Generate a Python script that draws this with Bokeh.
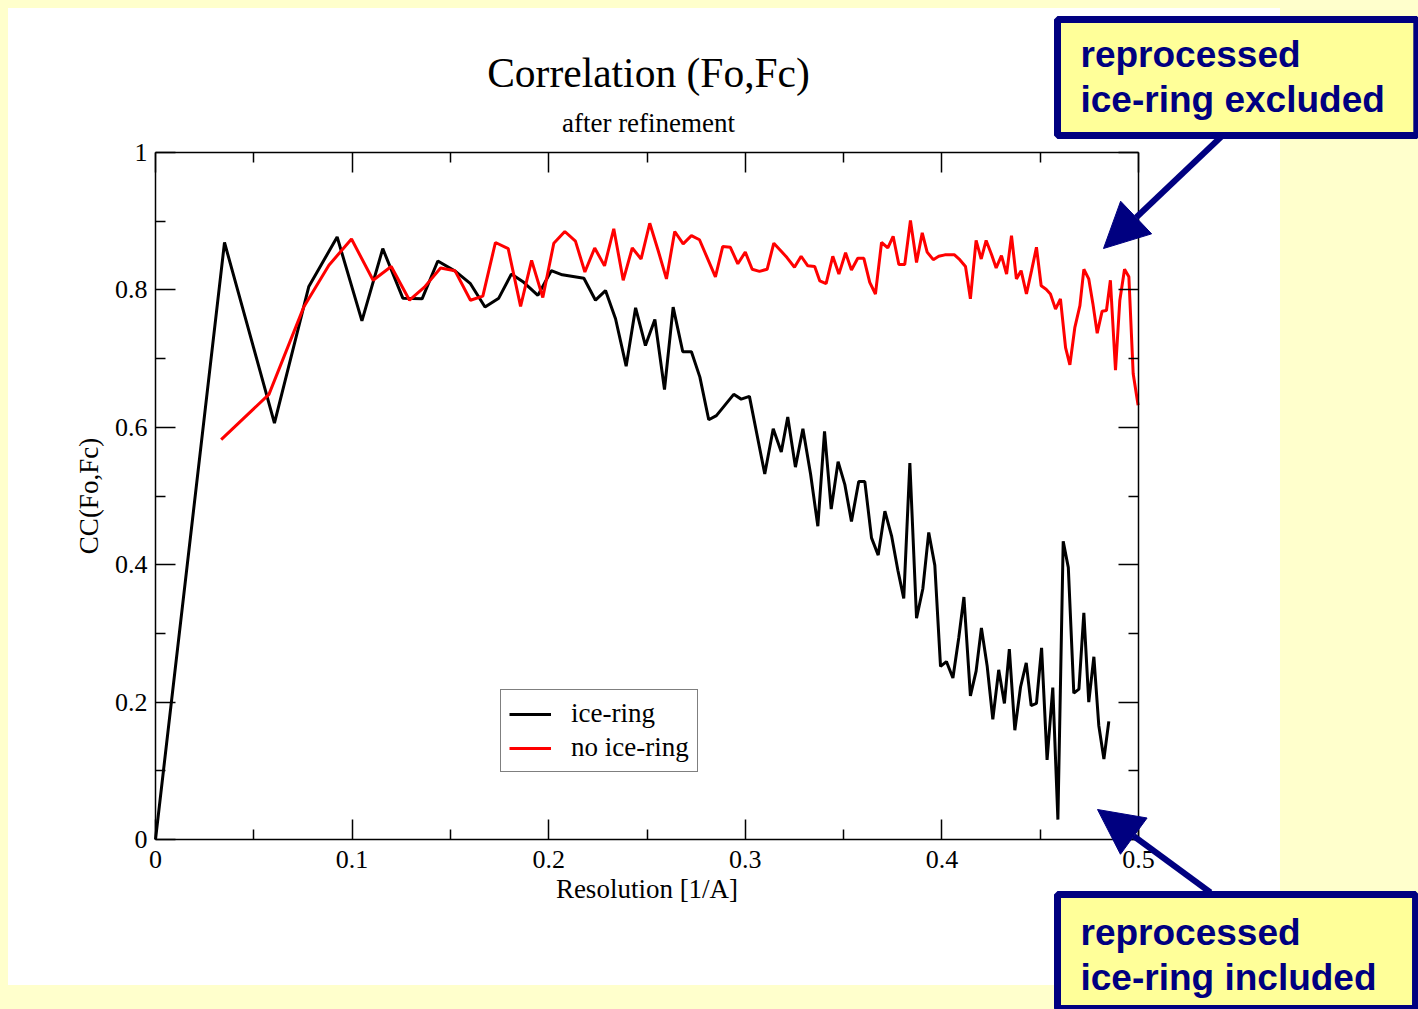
from bokeh.plotting import figure
from bokeh.models import (Range1d, LinearAxis, FixedTicker, CustomJSTickFormatter, Legend,
                          LegendItem, Label, Arrow, NormalHead)
from bokeh.embed import file_html
from bokeh.resources import INLINE

# ---------------- data ----------------
ice_x = [0, 0.0351, 0.0605, 0.078, 0.0924, 0.105, 0.1156, 0.1258, 0.1356, 0.1436, 0.1526, 0.1602,
         0.1676, 0.1746, 0.181, 0.1873, 0.1945, 0.2013, 0.2069, 0.2179, 0.2238, 0.2289, 0.234, 0.2394,
         0.2442, 0.2492, 0.254, 0.2589, 0.2633, 0.2682, 0.2726, 0.2769, 0.2814, 0.2853, 0.2941, 0.2979,
         0.3021, 0.3099, 0.3142, 0.3183, 0.3216, 0.3255, 0.3293, 0.3332, 0.3369, 0.3403, 0.3437, 0.3472,
         0.3506, 0.354, 0.3577, 0.3608, 0.3642, 0.3676, 0.371, 0.3744, 0.3776, 0.3806, 0.3837, 0.3871,
         0.3903, 0.3933, 0.3964, 0.3993, 0.4023, 0.4056, 0.4086, 0.4112, 0.4145, 0.4174, 0.4201, 0.423,
         0.4259, 0.4289, 0.4318, 0.4343, 0.4371, 0.44, 0.4429, 0.4454, 0.4481, 0.4507, 0.4535, 0.4564,
         0.459, 0.4617, 0.4643, 0.4671, 0.4697, 0.4722, 0.4747, 0.4773, 0.4798, 0.4824, 0.4849]
ice_y = [0, 0.869, 0.606, 0.805, 0.877, 0.755, 0.860, 0.788, 0.787, 0.842, 0.827, 0.809,
         0.775, 0.788, 0.823, 0.811, 0.792, 0.828, 0.822, 0.817, 0.785, 0.799, 0.758, 0.689,
         0.774, 0.719, 0.757, 0.655, 0.775, 0.710, 0.710, 0.673, 0.611, 0.617, 0.648, 0.641,
         0.645, 0.532, 0.598, 0.564, 0.615, 0.542, 0.598, 0.532, 0.456, 0.594, 0.481, 0.550,
         0.517, 0.463, 0.521, 0.521, 0.439, 0.414, 0.478, 0.442, 0.392, 0.351, 0.548, 0.322,
         0.365, 0.447, 0.399, 0.252, 0.259, 0.235, 0.294, 0.353, 0.209, 0.245, 0.308, 0.253,
         0.175, 0.247, 0.198, 0.277, 0.159, 0.222, 0.257, 0.195, 0.198, 0.279, 0.116, 0.221,
         0.029, 0.434, 0.396, 0.213, 0.219, 0.330, 0.200, 0.266, 0.166, 0.117, 0.172]

noice_x = [0.0334, 0.0577, 0.0754, 0.0882, 0.0997, 0.1107, 0.1199, 0.1292, 0.1368, 0.145, 0.1523,
           0.1602, 0.1665, 0.1729, 0.1794, 0.1857, 0.1913, 0.197, 0.2026, 0.2082, 0.2136, 0.2184,
           0.2234, 0.2284, 0.2331, 0.2379, 0.2425, 0.247, 0.2514, 0.2557, 0.2599, 0.2641, 0.2684,
           0.2726, 0.2767, 0.2806, 0.2848, 0.2885, 0.2924, 0.2962, 0.3, 0.3035, 0.3072, 0.3111,
           0.3145, 0.3184, 0.3212, 0.325, 0.3284, 0.3318, 0.3353, 0.3379, 0.3411, 0.3445, 0.3476,
           0.351, 0.354, 0.3572, 0.3603, 0.3633, 0.3662, 0.3693, 0.3725, 0.3752, 0.3781, 0.3811,
           0.384, 0.3871, 0.39, 0.3925, 0.3956, 0.3984, 0.4015, 0.4064, 0.4091, 0.412, 0.4145,
           0.4174, 0.42, 0.4225, 0.4252, 0.4276, 0.4303, 0.4329, 0.4354, 0.4379, 0.4403, 0.443,
           0.4456, 0.4481, 0.4505, 0.453, 0.4552, 0.4578, 0.4603, 0.4629, 0.4651, 0.4676, 0.4702,
           0.4722, 0.4747, 0.4768, 0.479, 0.4815, 0.4837, 0.4857, 0.4883, 0.4905, 0.4929, 0.4951,
           0.4973, 0.4998]
noice_y = [0.582, 0.648, 0.775, 0.836, 0.874, 0.814, 0.834, 0.785, 0.804, 0.832, 0.828,
           0.785, 0.791, 0.869, 0.860, 0.776, 0.843, 0.789, 0.868, 0.885, 0.871, 0.826,
           0.861, 0.835, 0.889, 0.814, 0.861, 0.845, 0.897, 0.857, 0.816, 0.885, 0.867,
           0.879, 0.873, 0.847, 0.819, 0.863, 0.862, 0.838, 0.855, 0.830, 0.827, 0.830,
           0.868, 0.856, 0.847, 0.833, 0.849, 0.835, 0.834, 0.813, 0.809, 0.849, 0.823,
           0.854, 0.829, 0.846, 0.846, 0.811, 0.794, 0.869, 0.861, 0.878, 0.837, 0.837,
           0.901, 0.840, 0.883, 0.855, 0.844, 0.849, 0.851, 0.851, 0.844, 0.834, 0.787,
           0.872, 0.845, 0.872, 0.852, 0.832, 0.850, 0.823, 0.879, 0.816, 0.828, 0.794,
           0.828, 0.862, 0.806, 0.801, 0.794, 0.772, 0.787, 0.716, 0.691, 0.745, 0.777,
           0.830, 0.816, 0.780, 0.737, 0.769, 0.770, 0.814, 0.683, 0.785, 0.830, 0.819,
           0.678, 0.632]

x_ticks = [0, 0.1, 0.2, 0.3, 0.4, 0.5]
x_minor = [0.05, 0.15, 0.25, 0.35, 0.45]
y_ticks = [0, 0.2, 0.4, 0.6, 0.8, 1.0]
y_minor = [0.1, 0.3, 0.5, 0.7, 0.9]
x_lim = (0, 0.5)
y_lim = (0, 1)

title_text = "Correlation (Fo,Fc)"
subtitle_text = "after refinement"
x_label = "Resolution [1/A]"
y_label = "CC(Fo,Fc)"
series_names = ["ice-ring", "no ice-ring"]
note_top = "reprocessed\nice-ring excluded"
note_bottom = "reprocessed\nice-ring included"

# ---------------- layout ----------------
W, H = 1418, 1009
# the axes box (0..0.5 x 0..1) occupies page pixels 155..1138 x 152..839;
# the drawing frame covers the whole canvas so that titles and call-outs are not clipped
AX_L, AX_T, AX_W, AX_H = 155, 152, 983, 687
SERIF = "Liberation Serif"
SANS = "Liberation Sans"
NAVY = "#000080"
PALE = "#FFFFCC"
BOXFILL = "#FFFF99"

kx = (x_lim[1] - x_lim[0]) / AX_W
ky = (y_lim[1] - y_lim[0]) / AX_H
x_range = Range1d(x_lim[0] - AX_L * kx, x_lim[0] + (W - AX_L) * kx)
y_range = Range1d(y_lim[0] - (H - AX_T - AX_H) * ky, y_lim[1] + AX_T * ky)


def sx(px):
    # page x -> frame-relative screen x
    return px


def sy(py):
    # page y -> frame-relative screen y (upwards from the frame bottom)
    return H - py


p = figure(width=W, height=H, output_backend="svg", toolbar_location=None,
           x_range=x_range, y_range=y_range,
           min_border_left=0, min_border_top=0, min_border_right=0, min_border_bottom=0,
           x_axis_type=None, y_axis_type=None)
p.background_fill_alpha = 0
p.border_fill_alpha = 0
p.styles = {"background": "linear-gradient(#ffffff, #ffffff) 8px 8px / 1272px 977px no-repeat, " + PALE}
p.outline_line_color = None

fmt = CustomJSTickFormatter(code="return tick.toFixed(1).replace(/\\.0$/, '');")


def make_axis(ticks, minor, bounds, label, show_labels, fixed):
    ax = LinearAxis(ticker=FixedTicker(ticks=ticks, minor_ticks=minor), formatter=fmt,
                    bounds=bounds, fixed_location=fixed)
    ax.axis_line_color = "black"
    ax.axis_line_width = 1.5
    ax.major_tick_in = 20
    ax.major_tick_out = 0
    ax.minor_tick_in = 10
    ax.minor_tick_out = 0
    ax.major_tick_line_width = 1.5
    ax.minor_tick_line_width = 1.5
    ax.major_tick_line_color = "black"
    ax.minor_tick_line_color = "black"
    if show_labels:
        ax.major_label_text_font = SERIF
        ax.major_label_text_font_size = "26px"
        ax.major_label_text_color = "black"
        ax.axis_label = label
        ax.axis_label_text_font = SERIF
        ax.axis_label_text_font_size = "27px"
        ax.axis_label_text_font_style = "normal"
        ax.axis_label_text_color = "black"
    else:
        ax.major_label_text_alpha = 0
    return ax


xb = make_axis(x_ticks, x_minor, x_lim, x_label, True, y_lim[0])
xb.major_label_standoff = 11
xb.axis_label_standoff = 3
p.add_layout(xb, "below")
p.add_layout(make_axis(x_ticks, x_minor, x_lim, "", False, y_lim[1]), "above")
yl = make_axis(y_ticks, y_minor, y_lim, y_label, True, x_lim[0])
yl.major_label_standoff = 8
yl.axis_label_standoff = 8
p.add_layout(yl, "left")
p.add_layout(make_axis(y_ticks, y_minor, y_lim, "", False, x_lim[1]), "right")

r1 = p.line(ice_x, ice_y, line_color="black", line_width=3)
r2 = p.line(noice_x, noice_y, line_color="red", line_width=3)

legend = Legend(items=[LegendItem(label=series_names[0], renderers=[r1]),
                       LegendItem(label=series_names[1], renderers=[r2])],
                location=(sx(500), sy(772)))
legend.border_line_color = "black"
legend.border_line_width = 1
legend.background_fill_color = "white"
legend.background_fill_alpha = 1
legend.label_text_font = SERIF
legend.label_text_font_size = "27px"
legend.label_text_color = "black"
legend.glyph_width = 42
legend.glyph_height = 20
legend.label_height = 20
legend.label_standoff = 20
legend.padding = 8
legend.spacing = 3
legend.margin = 0
p.add_layout(legend, "center")

# titles (anchored at the top of the text)
p.add_layout(Label(x=sx(648), y=sy(49), x_units="screen", y_units="screen", text=title_text,
                   text_font=SERIF, text_font_size="41.5px", text_align="center",
                   text_baseline="top", text_color="black"))
p.add_layout(Label(x=sx(648), y=sy(107), x_units="screen", y_units="screen", text=subtitle_text,
                   text_font=SERIF, text_font_size="27px", text_align="center",
                   text_baseline="top", text_color="black"))


def arrow(x0, y0, x1, y1):
    p.add_layout(Arrow(x_start=sx(x0), y_start=sy(y0), x_end=sx(x1), y_end=sy(y1),
                       start_units="screen", end_units="screen", line_color=NAVY, line_width=6,
                       end=NormalHead(size=45, fill_color=NAVY, line_color=NAVY, line_width=1),
                       level="overlay"))


def note(txt, left, top, pad):
    p.add_layout(Label(x=sx(left), y=sy(top), x_units="screen", y_units="screen", text=txt,
                       text_font=SANS, text_font_size="37px", text_font_style="bold",
                       text_color=NAVY, text_align="left", text_baseline="top",
                       text_line_height=1.1,
                       background_fill_color=BOXFILL, background_fill_alpha=1,
                       border_line_color=NAVY, border_line_width=7, border_line_alpha=1,
                       padding=pad, level="overlay"))


arrow(1222, 135, 1103, 248)
note(note_top, 1057, 19, dict(left=23, right=32, top=14, bottom=16))

arrow(1210, 892, 1097, 809)
note(note_bottom, 1057, 894, dict(left=23, right=39, top=17, bottom=11))

open("out.html", "w").write(file_html(p, INLINE))
